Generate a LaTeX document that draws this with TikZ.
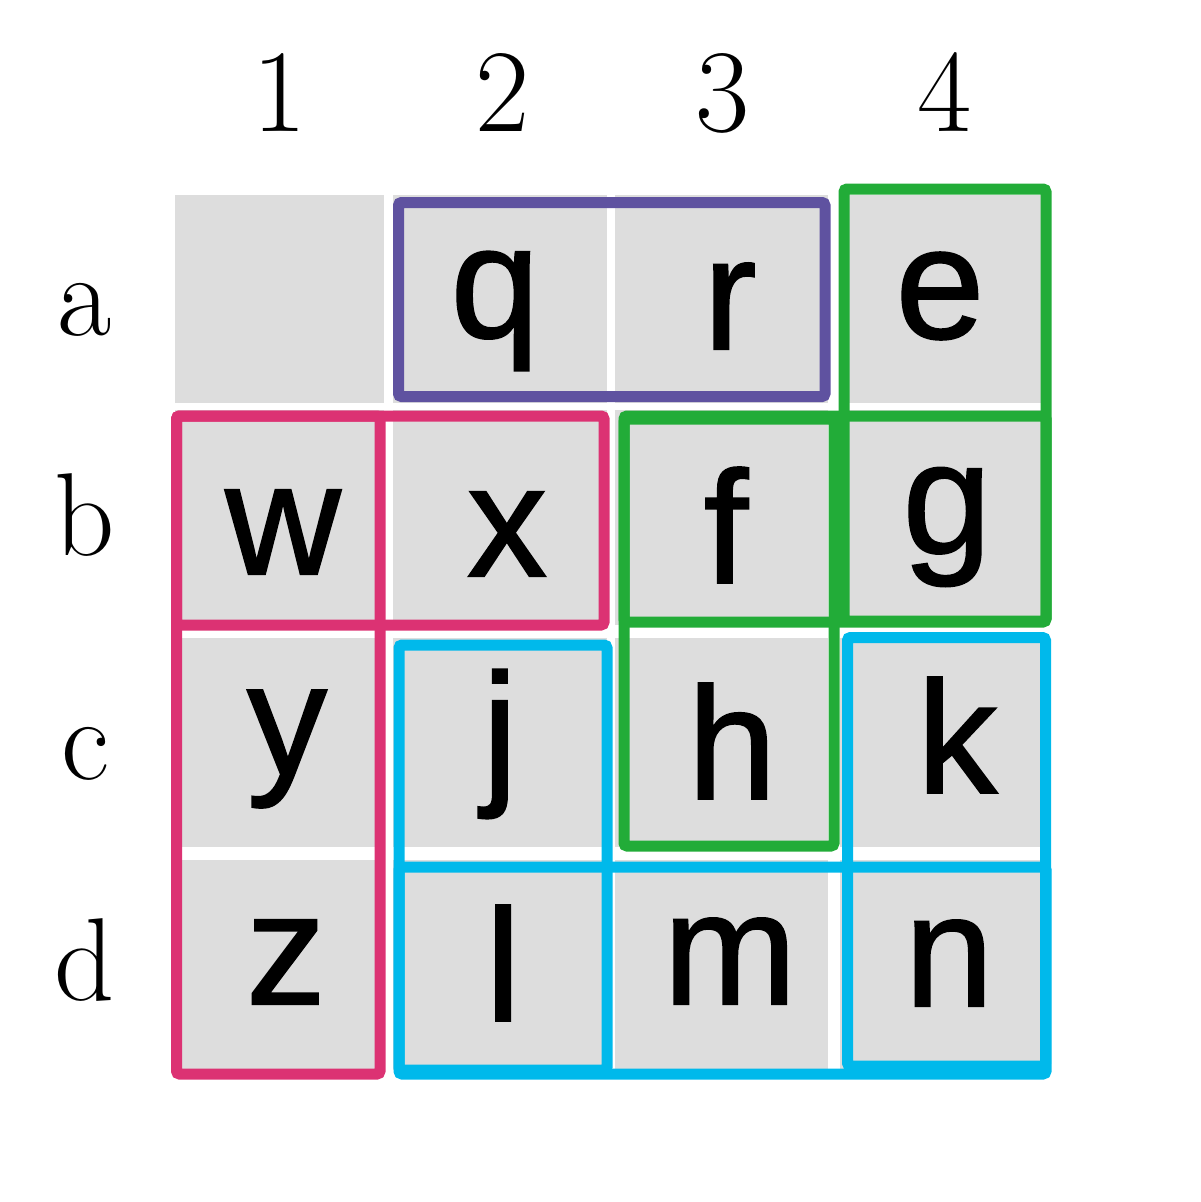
\documentclass[tikz,border=0pt]{standalone}
\usepackage{fontspec}
\newfontfamily\cellfont[FakeBold=1.2]{Liberation Sans}
\definecolor{cellgray}{RGB}{221,221,221}
\definecolor{cpurple}{RGB}{95,82,160}
\definecolor{cpink}{RGB}{220,50,115}
\definecolor{cgreen}{RGB}{34,172,56}
\definecolor{cblue}{RGB}{0,185,235}
\begin{document}
\begin{tikzpicture}[x=1pt,y=-1pt,
  grp/.style={line width=11pt,rounded corners=3pt},
  letter/.style={font=\cellfont\fontsize{160}{160}\selectfont,anchor=center,inner sep=0pt},
  lbl/.style={font=\fontsize{118}{118}\selectfont,anchor=base,inner sep=0pt}]
\path[use as bounding box] (0,0) rectangle (1200,1202);
% cells
\foreach \xa/\xb in {175/384,393/607,615/828,840/1045}
  \foreach \ya/\yb in {195/403,410/625,638/847,860/1070}
    \fill[cellgray] (\xa,\ya) rectangle (\xb,\yb);
% column labels
\node[lbl] (c1) at (280,131) {1};
\node[lbl] (c2) at (503,131) {2};
\node[lbl] (c3) at (723,131) {3};
\node[lbl] (c4) at (945,131) {4};
% row labels
\node[lbl] (ra) at (85,335) {a};
\node[lbl] (rb) at (85,555) {b};
\node[lbl] (rc) at (85,779) {c};
\node[lbl] (rd) at (85,1000) {d};
% letters
\node[letter] (q) at (495,311) {q};
\node[letter] (r) at (730,306) {r};
\node[letter] (e) at (940,296) {e};
\node[letter] (w) at (283,532) {w};
\node[letter] (x) at (507,534) {x};
\node[letter] (f) at (726,525) {f};
\node[letter] (g) at (947,527) {g};
\node[letter] (y) at (287,749) {y};
\node[letter] (j) at (500,744) {j};
\node[letter] (h) at (732,741) {h};
\node[letter] (k) at (957,735) {k};
\node[letter] (z) at (286,962) {z};
\node[letter] (l) at (503,963) {l};
\node[letter] (m) at (730,961) {m};
\node[letter] (n) at (949,963) {n};
% group outlines
\draw[grp,cpurple] (398.5,202.5) rectangle (825,396.5);
\draw[grp,cpink] (176.5,416) rectangle (380,1074);
\draw[grp,cpink] (176.5,416) rectangle (604,625);
\draw[grp,cgreen] (844,189) rectangle (1046,621);
\draw[grp,cgreen] (624,419) rectangle (834,846);
\draw[grp,cgreen] (624,416) rectangle (1046,622);
\draw[grp,cblue] (399,645) rectangle (607,1070);
\draw[grp,cblue] (399,867) rectangle (1046,1074);
\draw[grp,cblue] (847.5,637.5) rectangle (1045.5,1066);
\end{tikzpicture}
\end{document}
